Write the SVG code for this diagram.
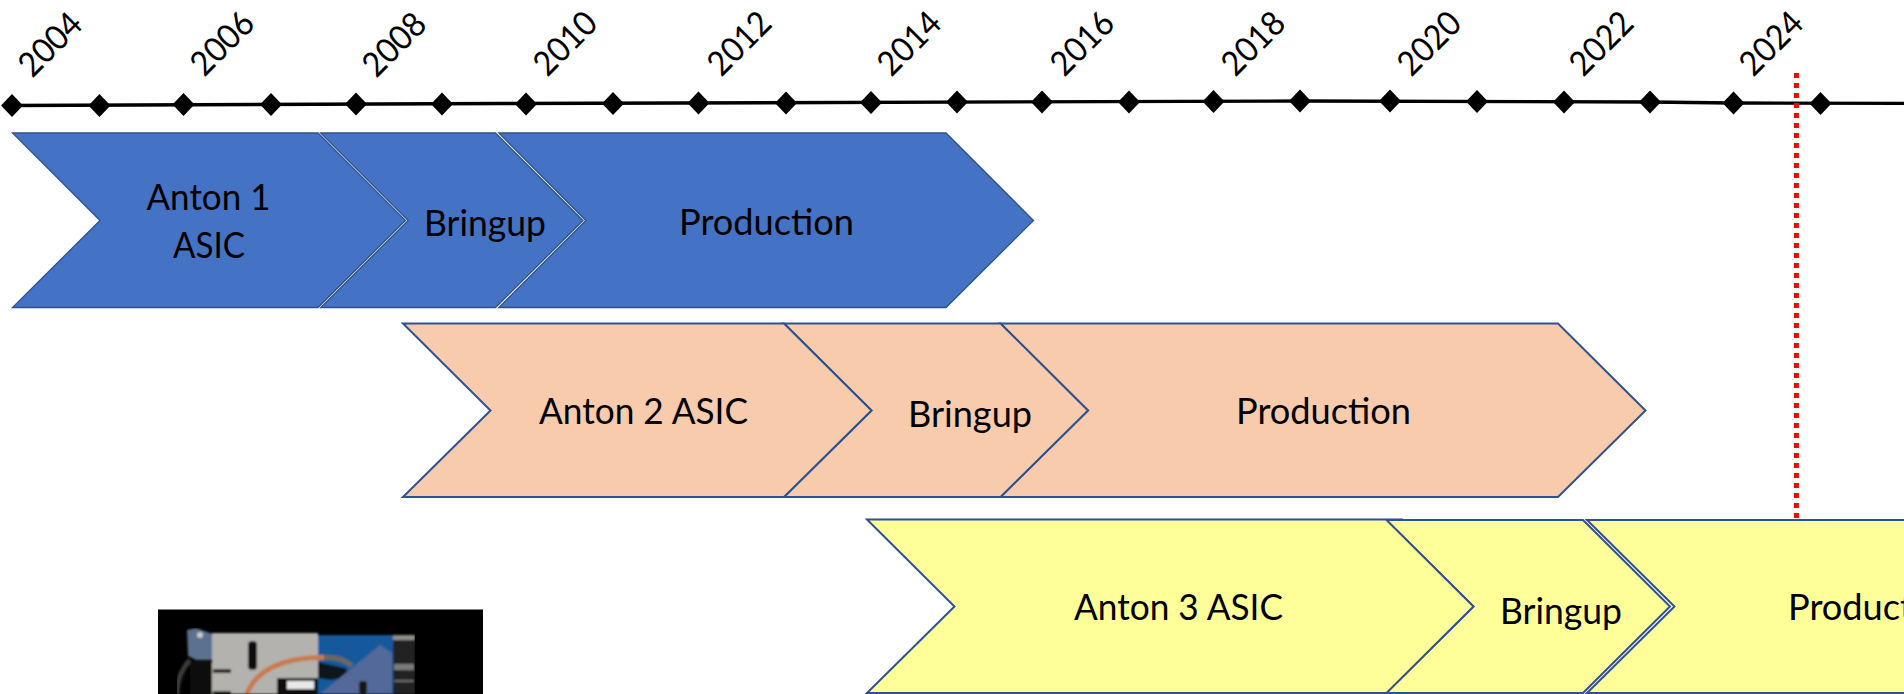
<svg xmlns="http://www.w3.org/2000/svg" xmlns:xlink="http://www.w3.org/1999/xlink" width="1904" height="694" viewBox="0 0 1904 694">
<style>
text{font-family:"Lato","Open Sans","Liberation Sans",sans-serif;fill:#000;}
.l{font-size:36px;text-anchor:middle;}
.y{font-size:34px;text-anchor:middle;}
.c{stroke:#2F528F;stroke-width:2;stroke-linejoin:miter;}
.blue{fill:#4472C4;stroke-width:1.3;}
.peach{fill:#F7CBAC;}
.yellow{fill:#FFFF99;}
</style>
<defs>
<polygon id="dia" points="0,-11.500 11,0 0,11.500 -11,0" fill="#000"/>
<filter id="soft" x="0" y="0" width="1" height="1"><feGaussianBlur stdDeviation="0.9"/></filter>
</defs>
<rect width="1904" height="694" fill="#fff"/>
<g id="timeline">
<polyline points="12,105.500 500,103.500 1300,101 1650,102 1733,103 1904,103.400" fill="none" stroke="#000" stroke-width="3.400"/>
<use xlink:href="#dia" href="#dia" x="12" y="105.500"/>
<use xlink:href="#dia" href="#dia" x="99.500" y="105.500"/>
<use xlink:href="#dia" href="#dia" x="183.500" y="104.500"/>
<use xlink:href="#dia" href="#dia" x="271" y="104.500"/>
<use xlink:href="#dia" href="#dia" x="356" y="104"/>
<use xlink:href="#dia" href="#dia" x="442" y="104"/>
<use xlink:href="#dia" href="#dia" x="526" y="104"/>
<use xlink:href="#dia" href="#dia" x="613" y="103.500"/>
<use xlink:href="#dia" href="#dia" x="698.500" y="103"/>
<use xlink:href="#dia" href="#dia" x="786" y="103"/>
<use xlink:href="#dia" href="#dia" x="871" y="102.500"/>
<use xlink:href="#dia" href="#dia" x="957" y="102"/>
<use xlink:href="#dia" href="#dia" x="1042" y="102"/>
<use xlink:href="#dia" href="#dia" x="1129" y="102"/>
<use xlink:href="#dia" href="#dia" x="1213.500" y="101.500"/>
<use xlink:href="#dia" href="#dia" x="1300" y="101"/>
<use xlink:href="#dia" href="#dia" x="1390" y="101"/>
<use xlink:href="#dia" href="#dia" x="1477" y="101.500"/>
<use xlink:href="#dia" href="#dia" x="1564" y="102"/>
<use xlink:href="#dia" href="#dia" x="1650" y="102"/>
<use xlink:href="#dia" href="#dia" x="1733.500" y="103"/>
<use xlink:href="#dia" href="#dia" x="1820.500" y="103.400"/>
</g>
<g id="years">
<text class="y" textLength="74" lengthAdjust="spacingAndGlyphs" transform="translate(50,44) rotate(-45)" dy="12">2004</text>
<text class="y" textLength="74" lengthAdjust="spacingAndGlyphs" transform="translate(222,43) rotate(-45)" dy="12">2006</text>
<text class="y" textLength="74" lengthAdjust="spacingAndGlyphs" transform="translate(394,44) rotate(-45)" dy="12">2008</text>
<text class="y" textLength="74" lengthAdjust="spacingAndGlyphs" transform="translate(565,43) rotate(-45)" dy="12">2010</text>
<text class="y" textLength="74" lengthAdjust="spacingAndGlyphs" transform="translate(739,43) rotate(-45)" dy="12">2012</text>
<text class="y" textLength="74" lengthAdjust="spacingAndGlyphs" transform="translate(909,43) rotate(-45)" dy="12">2014</text>
<text class="y" textLength="74" lengthAdjust="spacingAndGlyphs" transform="translate(1082,43) rotate(-45)" dy="12">2016</text>
<text class="y" textLength="74" lengthAdjust="spacingAndGlyphs" transform="translate(1253,43) rotate(-45)" dy="12">2018</text>
<text class="y" textLength="74" lengthAdjust="spacingAndGlyphs" transform="translate(1429,43) rotate(-45)" dy="12">2020</text>
<text class="y" textLength="74" lengthAdjust="spacingAndGlyphs" transform="translate(1601,43) rotate(-45)" dy="12">2022</text>
<text class="y" textLength="74" lengthAdjust="spacingAndGlyphs" transform="translate(1771,43) rotate(-45)" dy="12">2024</text>
</g>
<g id="today-line">
<line x1="1796.400" y1="73" x2="1796.400" y2="519" stroke="#FF0000" stroke-width="5" stroke-dasharray="5 5"/>
</g>
<g id="anton1-production">
<polygon class="c blue" points="498.800,133 946,133 1033.500,220.500 946,307.500 498.800,307.500 585.800,220.500"/>
<text class="l" x="766.500" y="234.500" textLength="175" lengthAdjust="spacingAndGlyphs">Production</text>
</g>
<g id="anton1-bringup">
<polygon class="c blue" points="320.700,133 495.500,133 583,220.500 495.500,307.500 320.700,307.500 408.200,220.500"/>
<text class="l" x="485" y="235.500" textLength="122" lengthAdjust="spacingAndGlyphs">Bringup</text>
</g>
<g id="anton1-asic">
<polygon class="c blue" points="12.500,133 318,133 405.500,220.500 318,307.500 12.500,307.500 100,220.500"/>
<text class="l" x="208.500" y="209.500" textLength="124" lengthAdjust="spacingAndGlyphs">Anton 1</text>
<text class="l" x="209" y="257.500" textLength="72" lengthAdjust="spacingAndGlyphs">ASIC</text>
</g>
<g id="anton2-production">
<polygon class="c peach" points="1000.500,323.500 1558,323.500 1645.500,410.500 1558,497 1000.500,497 1088,410.500"/>
<text class="l" x="1323.500" y="423.500" textLength="175" lengthAdjust="spacingAndGlyphs">Production</text>
</g>
<g id="anton2-bringup">
<polygon class="c peach" points="784,323.500 1000.500,323.500 1088,410.500 1000.500,497 784,497 871.500,410.500"/>
<text class="l" x="970" y="426.500" textLength="124" lengthAdjust="spacingAndGlyphs">Bringup</text>
</g>
<g id="anton2-asic">
<polygon class="c peach" points="403,323.500 784,323.500 871.500,410.500 784,497 403,497 490.500,410.500"/>
<text class="l" x="643.500" y="423.500" textLength="209" lengthAdjust="spacingAndGlyphs">Anton 2 ASIC</text>
</g>
<g id="anton3-production">
<polygon class="c yellow" points="1587,520 1910,520 1910,693 1587,693 1674.500,606.500"/>
<text class="l" x="1875.500" y="619.500" textLength="175" lengthAdjust="spacingAndGlyphs">Production</text>
</g>
<g id="anton3-bringup">
<polygon class="c yellow" points="1386,520 1583,520 1670,606.500 1583,693 1386,693 1473.500,606.500"/>
<text class="l" x="1561" y="623.500" textLength="122" lengthAdjust="spacingAndGlyphs">Bringup</text>
</g>
<g id="anton3-asic">
<polygon class="c yellow" points="867,519.500 1402,519.500 1402,520 1386.500,520 1473.500,606.500 1386.500,693 867,693 954.500,606.500"/>
<text class="l" x="1178.500" y="619.500" textLength="209" lengthAdjust="spacingAndGlyphs">Anton 3 ASIC</text>
</g>
<g id="photo">
<rect x="158" y="609.500" width="325" height="85" fill="#000"/>
<g filter="url(#soft)">
<path d="M190,660 C181,670 177,680 177,694" fill="none" stroke="#3a3a3a" stroke-width="5"/>
<rect x="190" y="662" width="22" height="32" fill="#0a0a0a"/>
<path d="M187,630 L196,628 L213,634 L213,660 L196,660 L188,656 Z" fill="#5c708f"/>
<circle cx="200" cy="635" r="3" fill="#c8c8c8"/>
<rect x="212" y="633" width="106" height="61" fill="#b4b2af"/>
<rect x="248" y="641" width="9" height="29" rx="4" fill="#111"/>
<rect x="213" y="669" width="18" height="4" fill="#222"/>
<rect x="213" y="691" width="18" height="3" fill="#222"/>
<rect x="277" y="678" width="41" height="16" fill="#111"/>
<rect x="287" y="681" width="27" height="8" fill="#e8e8e8"/>
<rect x="318" y="635" width="76" height="59" fill="#14589c"/>
<path d="M318,662 L345,668 L352,677 L330,680 L318,678 Z" fill="#10151c"/>
<path d="M320,694 L380,645 L392,653 L392,694 Z" fill="#53699a"/>
<rect x="359" y="681" width="8" height="13" rx="3" fill="#161616"/>
<path d="M247,694 C255,672 280,657 324,657.500" fill="none" stroke="#c87a4c" stroke-width="5"/>
<path d="M324,657.500 C338,657 346,660 352,666" fill="none" stroke="#6d675f" stroke-width="5"/>
<rect x="393" y="635" width="22" height="59" fill="#242424"/>
<rect x="393" y="635" width="22" height="5" fill="#8e8e8a"/>
<rect x="394" y="664" width="20" height="6" fill="#7a7a78"/>
<rect x="394" y="680" width="20" height="2" fill="#6a6a68"/>
</g>
</g>
</svg>
